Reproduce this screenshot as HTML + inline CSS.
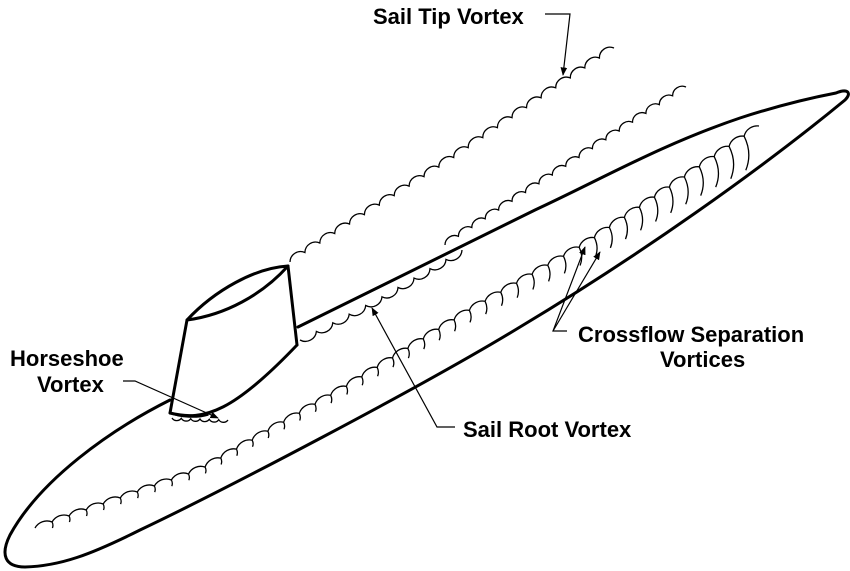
<!DOCTYPE html>
<html><head><meta charset="utf-8"><style>
html,body{margin:0;padding:0;background:#fff;}
svg{display:block;}
text{font-family:"Liberation Sans",Arial,sans-serif;font-weight:bold;font-size:22px;fill:#000;}
</style></head><body>
<svg id="s" width="850" height="571" viewBox="0 0 850 571" xmlns="http://www.w3.org/2000/svg">
<defs><marker id="ar" viewBox="0 0 10 10" refX="9" refY="5" markerWidth="7" markerHeight="7" orient="auto"><path d="M0,1 L10,5 L0,9 z" fill="#000"/></marker></defs>
<g fill="none" stroke="#000" stroke-linecap="round" stroke-linejoin="round">
<path stroke-width="3" d="M170,400 C110,430 40,480 10,535 C0,555 5,567 25,567 C60,566 90,555 140,530 C220,492 420,388 520,327 C640,255 760,170 845,100 C852,93 848,88 836,93 C810,98 780,105 740,118 C660,145 600,180 535,210 L298,327"/>
<path stroke-width="3" d="M187,320 C215,290 255,268 288,266 C262,295 225,315 187,320 Z"/>
<path stroke-width="3" d="M187,320 L170,413 M288,266 L297,345"/>
<path stroke-width="3" d="M170,413 C205,422 235,410 297,345"/>
<path stroke-width="1.5" d="M170,413 C180,418 198,418 208,415"/>
</g>
<g id="v" fill="none" stroke="#000" stroke-width="1.3"></g>
<g fill="none" stroke="#000" stroke-width="1.2">
<path d="M545,14 L570,14 L563,75" marker-end="url(#ar)"/>
<path d="M123,381 L135,381 L218,418" marker-end="url(#ar)"/>
<path d="M455,427 L437,427 L372,308" marker-end="url(#ar)"/>
<path d="M567,331 L553,331 L585,247" marker-end="url(#ar)"/>
<path d="M553,331 L600,252" marker-end="url(#ar)"/>
</g>
<text x="373" y="24">Sail Tip Vortex</text>
<text x="10" y="366">Horseshoe</text>
<text x="37" y="392">Vortex</text>
<text x="463" y="437">Sail Root Vortex</text>
<text x="578" y="342">Crossflow Separation</text>
<text x="660" y="367">Vortices</text>
</svg>
<script>
(function(){
var g=document.getElementById('v');
function sample(pts,n){var L=[0];for(var i=1;i<pts.length;i++){L.push(L[i-1]+Math.hypot(pts[i][0]-pts[i-1][0],pts[i][1]-pts[i-1][1]));}
var T=L[L.length-1],out=[];for(var k=0;k<=n;k++){var d=T*k/n,j=1;while(j<pts.length-1&&L[j]<d)j++;var t=(d-L[j-1])/(L[j]-L[j-1]||1);out.push([pts[j-1][0]+t*(pts[j][0]-pts[j-1][0]),pts[j-1][1]+t*(pts[j][1]-pts[j-1][1])]);}return out;}
function scallop(pts,n,sweep,hook,rf){rf=rf||0.6;var p=sample(pts,n),d='M'+p[0][0].toFixed(1)+','+p[0][1].toFixed(1);
for(var i=1;i<p.length;i++){var r=Math.hypot(p[i][0]-p[i-1][0],p[i][1]-p[i-1][1])*rf;d+=' A'+r.toFixed(1)+','+r.toFixed(1)+' 0 0 '+sweep+' '+p[i][0].toFixed(1)+','+p[i][1].toFixed(1);}
if(hook){for(var i=1;i<p.length-1;i++){var f=i/(p.length-1),len=6+Math.pow(f,3)*30,x=p[i][0],y=p[i][1];d+=' M'+x.toFixed(1)+','+y.toFixed(1)+' Q'+(x+len*0.25).toFixed(1)+','+(y+len*0.5).toFixed(1)+' '+(x+len*0.05).toFixed(1)+','+(y+len).toFixed(1);}}
var e=document.createElementNS('http://www.w3.org/2000/svg','path');e.setAttribute('d',d);g.appendChild(e);}
scallop([[290,262],[450,160],[614,48]],22,1,false);
scallop([[445,245],[560,170],[686,87]],18,1,false);
scallop([[300,340],[380,298],[462,250]],10,0,false);
scallop([[172,418],[228,420]],6,0,false);
scallop([[35,528],[200,470],[347,386],[470,310],[585,244],[680,180],[759,126]],46,1,true,0.75);
})();
</script>
</body></html>
